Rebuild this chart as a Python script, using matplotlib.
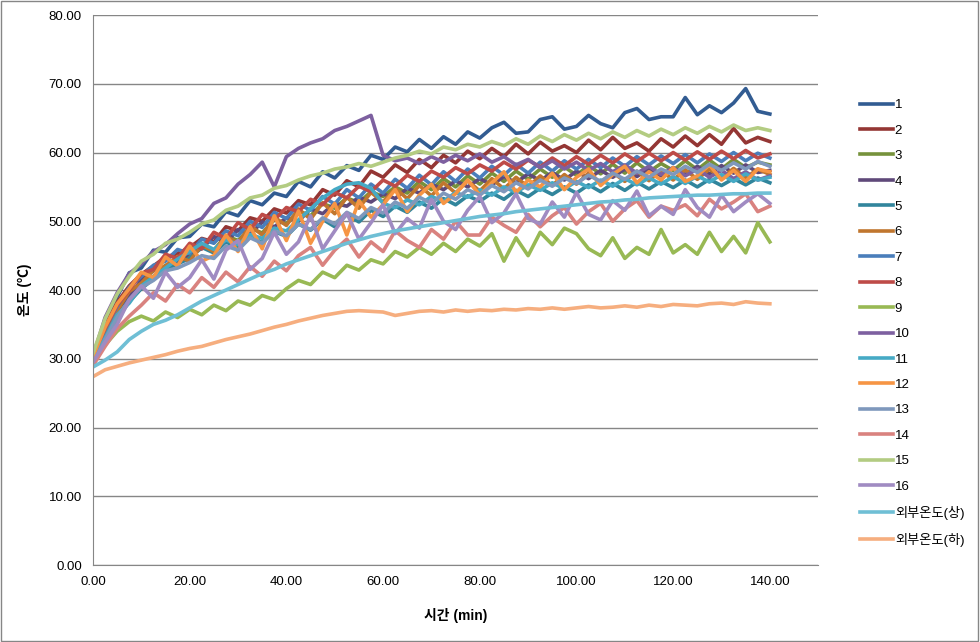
import matplotlib
matplotlib.use("Agg")
import matplotlib.pyplot as plt
from matplotlib.patches import Rectangle

plt.rcParams["font.family"] = ["Liberation Sans", "Noto Sans CJK KR"]

# time axis (min), one reading every 2.5 min
time = [i * 2.5 for i in range(57)]

s1 = [30.2, 35.5, 39.0, 42.5, 43.2, 45.8, 45.5, 47.6,
      47.8, 49.6, 49.2, 51.4, 50.8, 53.0, 52.4, 54.1,
      53.6, 55.8, 55.0, 57.2, 56.3, 58.1, 57.4, 59.6,
      59.0, 60.8, 60.1, 61.9, 60.6, 62.3, 61.2, 63.0,
      62.1, 63.6, 64.4, 62.8, 63.0, 64.8, 65.2, 63.4,
      63.8, 65.4, 64.2, 63.6, 65.8, 66.4, 64.8, 65.2,
      65.2, 68.0, 65.5, 66.8, 65.8, 67.2, 69.3, 66.0, 65.6]
s2 = [30.5, 34.8, 38.2, 40.6, 42.3, 43.5, 44.8, 45.3,
      46.2, 47.5, 47.0, 49.2, 48.6, 50.5, 50.0, 51.8,
      51.2, 53.0, 52.4, 54.6, 53.8, 55.9, 55.0, 57.3,
      56.4, 58.2, 57.1, 59.0, 57.8, 59.6, 58.5, 60.2,
      59.1, 60.6, 59.4, 61.2, 59.8, 61.5, 60.2, 61.0,
      60.0, 61.8, 60.4, 62.2, 60.6, 61.4, 60.2, 62.0,
      60.8, 62.4, 61.0, 62.6, 61.2, 63.5, 61.4, 62.2, 61.6]
s3 = [30.0, 33.8, 36.9, 39.4, 41.2, 42.0, 43.6, 44.1,
      45.0, 46.3, 45.8, 47.9, 47.2, 49.0, 48.3, 50.2,
      49.6, 51.5, 50.8, 52.6, 51.9, 53.4, 52.7, 54.3,
      53.6, 55.0, 54.1, 55.8, 54.6, 56.2, 55.0, 56.6,
      55.4, 57.0, 55.8, 57.3, 56.1, 57.6, 56.4, 57.9,
      56.7, 58.1, 56.9, 58.3, 57.0, 58.5, 57.2, 58.4,
      57.4, 58.8, 57.5, 58.9, 57.6, 59.0, 57.8, 58.6, 58.2]
s4 = [29.6, 33.5, 37.2, 39.0, 41.5, 42.8, 44.6, 43.9,
      45.4, 46.0, 47.8, 46.9, 48.8, 48.1, 49.9, 49.2,
      50.5, 50.0, 51.8, 51.1, 52.6, 52.2, 53.5, 52.8,
      54.0, 53.3, 54.8, 54.1, 55.4, 54.6, 55.9, 55.0,
      56.2, 55.3, 56.5, 55.6, 56.9, 55.9, 57.1, 56.0,
      57.3, 56.2, 57.4, 56.4, 57.6, 56.5, 57.7, 56.6,
      57.8, 56.8, 58.0, 56.9, 58.1, 57.0, 58.2, 57.1, 57.4]
s5 = [29.4, 32.6, 35.8, 38.3, 40.2, 41.6, 43.0, 43.8,
      44.6, 46.2, 45.4, 47.0, 46.1, 47.8, 46.9, 48.5,
      47.8, 49.6, 48.7, 50.3, 49.2, 51.0, 49.9, 51.6,
      50.7, 52.2, 51.3, 52.8, 51.9, 53.3, 52.4, 53.7,
      52.9, 54.1, 53.2, 54.5, 53.6, 54.8, 53.9, 55.0,
      54.1, 55.3, 54.3, 55.5, 54.5, 55.7, 54.7, 55.8,
      54.9, 56.0, 55.0, 56.1, 55.2, 56.2, 55.3, 56.3, 55.6]
s6 = [30.1, 34.0, 37.0, 39.8, 41.0, 42.9, 43.5, 44.9,
      44.2, 46.5, 45.6, 47.9, 46.8, 49.4, 48.0, 50.6,
      49.4, 51.8, 50.3, 52.7, 51.1, 53.5, 51.9, 54.2,
      52.8, 54.8, 53.3, 55.2, 53.7, 55.6, 54.1, 55.9,
      54.4, 56.2, 54.7, 56.4, 55.0, 56.6, 55.2, 56.8,
      55.4, 57.0, 55.6, 57.1, 55.8, 57.3, 55.9, 57.4,
      56.0, 57.5, 56.1, 57.6, 56.2, 57.7, 56.3, 57.6, 56.8]
s7 = [29.9, 34.2, 37.6, 40.4, 42.0, 43.6, 44.2, 45.9,
      45.3, 47.4, 46.8, 48.6, 47.9, 50.0, 49.1, 51.3,
      50.4, 52.5, 51.6, 53.6, 52.5, 54.6, 53.4, 55.4,
      54.1, 56.1, 54.8, 56.7, 55.3, 57.2, 55.8, 57.6,
      56.3, 58.0, 56.7, 58.3, 57.0, 58.6, 57.3, 58.8,
      57.6, 59.0, 57.8, 59.2, 58.0, 59.4, 58.2, 59.5,
      58.4, 59.7, 58.5, 59.8, 58.7, 60.0, 58.8, 59.9, 59.2]
s8 = [30.4, 34.4, 37.8, 40.0, 42.4, 43.0, 45.2, 44.6,
      46.8, 46.0, 48.4, 47.5, 49.8, 48.8, 51.0, 50.2,
      52.0, 51.4, 53.2, 52.4, 54.2, 53.4, 55.1, 54.3,
      56.0, 55.1, 56.7, 55.8, 57.3, 56.4, 57.8, 56.9,
      58.2, 57.3, 58.6, 57.6, 58.9, 57.9, 59.2, 58.1,
      59.4, 58.3, 59.6, 58.5, 59.8, 58.7, 59.9, 58.8,
      60.0, 58.9, 60.1, 59.0, 60.2, 59.1, 60.3, 59.2, 59.8]
s9 = [30.0, 32.0, 34.0, 35.4, 36.2, 35.5, 36.8, 36.0,
      37.2, 36.4, 37.8, 37.0, 38.4, 37.8, 39.2, 38.6,
      40.2, 41.4, 40.8, 42.6, 41.8, 43.6, 42.9, 44.4,
      43.8, 45.6, 44.8, 46.2, 45.2, 46.8, 45.6, 47.4,
      46.4, 48.2, 44.2, 47.6, 45.0, 48.4, 46.6, 49.0,
      48.2, 46.0, 45.0, 47.6, 44.6, 46.2, 45.2, 48.8,
      45.4, 46.6, 45.2, 48.4, 45.6, 47.8, 45.4, 49.8, 47.0]
s10 = [30.4, 36.0, 39.6, 42.4, 43.8, 45.6, 46.6, 48.2,
       49.6, 50.4, 52.6, 53.4, 55.4, 56.8, 58.6, 55.0,
       59.4, 60.6, 61.4, 62.0, 63.2, 63.8, 64.6, 65.4,
       59.6, 58.8, 59.2, 58.4, 59.4, 58.6, 59.6, 58.8,
       59.8, 58.6, 59.4, 58.2, 59.0, 57.8, 58.8, 57.6,
       58.6, 57.4, 58.4, 57.2, 58.2, 57.0, 58.0, 56.8,
       57.8, 56.6, 57.6, 56.4, 57.4, 56.2, 57.2, 56.0, 56.6]
s11 = [29.8, 33.0, 36.4, 38.1, 40.6, 41.9, 43.2, 44.5,
       45.6, 46.8, 45.9, 47.3, 46.6, 48.1, 47.5, 49.0,
       48.6, 50.2, 51.8, 53.4, 54.6, 55.4, 55.6, 54.8,
       52.6, 52.0, 53.1, 52.4, 53.6, 52.9, 54.2, 53.5,
       54.6, 53.8, 55.0, 54.2, 55.3, 54.5, 55.6, 54.7,
       55.8, 54.9, 56.0, 55.1, 56.2, 55.3, 56.3, 55.4,
       56.5, 55.5, 56.6, 55.7, 56.8, 55.8, 56.9, 56.0, 56.4]
s12 = [30.3, 34.6, 38.0, 40.2, 42.6, 41.8, 44.8, 43.5,
       46.4, 44.2, 45.0, 48.0, 45.6, 49.2, 46.0, 50.8,
       47.2, 51.5, 46.8, 50.0, 52.6, 48.0, 53.0, 50.6,
       52.4, 54.6, 51.4, 53.8, 55.4, 52.6, 54.0, 56.0,
       53.8, 55.6, 57.2, 54.2, 56.0, 55.0, 57.0, 54.6,
       56.4, 57.6, 55.2, 56.8, 58.0, 55.6, 57.2, 56.0,
       57.8, 55.8, 56.6, 58.2, 56.0, 57.4, 55.8, 57.6, 57.2]
s13 = [29.2, 32.8, 36.0, 38.6, 40.4, 41.4, 42.8, 43.2,
       44.0, 45.0, 44.6, 46.4, 45.8, 47.6, 46.8, 48.6,
       47.9, 49.6, 48.8, 50.5, 49.6, 51.3, 50.4, 52.0,
       51.2, 52.8, 51.9, 53.5, 52.6, 54.1, 53.2, 54.6,
       53.8, 55.2, 54.3, 55.6, 54.7, 56.0, 55.1, 56.3,
       55.5, 56.7, 55.8, 57.0, 56.1, 57.3, 56.4, 57.6,
       56.8, 58.0, 57.1, 58.3, 57.4, 58.5, 57.6, 58.7, 58.0]
s14 = [29.0, 31.8, 34.4, 36.2, 37.8, 39.6, 38.4, 40.8,
       39.6, 41.8, 40.4, 42.6, 41.2, 43.4, 42.0, 44.2,
       42.8, 45.0, 46.2, 43.6, 45.8, 47.4, 44.8, 47.0,
       45.6, 48.6, 47.2, 46.2, 48.8, 47.4, 50.0, 48.0,
       48.0, 50.6, 49.4, 48.4, 51.0, 49.2, 50.8, 52.0,
       49.6, 51.4, 52.6, 50.0, 51.8, 53.0, 50.6, 52.2,
       51.6, 52.4, 50.8, 53.2, 51.8, 52.8, 54.0, 51.4, 52.2]
s15 = [30.8, 35.8, 39.4, 42.0, 44.2, 45.2, 46.8, 47.4,
       48.4, 49.6, 50.2, 51.6, 52.2, 53.4, 53.8, 54.8,
       55.2, 56.0, 56.6, 57.0, 57.6, 57.9, 58.4, 58.0,
       58.6, 59.2, 59.6, 60.2, 59.8, 60.8, 60.4, 61.2,
       60.8, 61.6, 61.0, 62.0, 61.2, 62.4, 61.6, 62.6,
       61.8, 62.8, 62.0, 63.0, 62.2, 63.2, 62.4, 63.4,
       62.6, 63.6, 62.8, 63.8, 63.0, 64.0, 63.2, 63.6, 63.2]
s16 = [29.5, 32.4, 35.0, 38.6, 40.6, 38.8, 42.6, 40.4,
       41.8, 44.4, 41.6, 45.8, 47.2, 43.0, 44.6, 48.4,
       45.2, 47.0, 50.8, 46.0, 48.6, 51.2, 47.4, 49.8,
       52.4, 48.2, 50.4, 49.0, 53.2, 50.0, 48.8, 51.6,
       53.6, 49.8, 51.2, 54.0, 50.4, 49.6, 52.8, 50.6,
       54.2, 51.0, 50.2, 53.0, 51.6, 54.4, 50.8, 52.2,
       51.0, 54.6, 52.0, 50.6, 53.8, 51.4, 52.8, 54.0, 52.6]
outer_top = [28.8, 29.8, 31.0, 32.8, 34.0, 35.0, 35.6, 36.4,
             37.4, 38.4, 39.2, 40.0, 40.8, 41.6, 42.4, 43.0,
             43.8, 44.4, 45.0, 45.6, 46.2, 46.8, 47.3, 47.8,
             48.2, 48.6, 48.9, 49.2, 49.5, 49.8, 50.1, 50.4,
             50.7, 50.9, 51.1, 51.4, 51.6, 51.8, 52.0, 52.2,
             52.4, 52.6, 52.8, 52.9, 53.1, 53.2, 53.4, 53.5,
             53.6, 53.7, 53.8, 53.8, 53.9, 54.0, 54.0, 54.1, 54.1]
outer_bottom = [27.4, 28.4, 28.9, 29.4, 29.8, 30.2, 30.6, 31.1,
                31.5, 31.8, 32.3, 32.8, 33.2, 33.6, 34.1, 34.6,
                35.0, 35.5, 35.9, 36.3, 36.6, 36.9, 37.0, 36.9,
                36.8, 36.3, 36.6, 36.9, 37.0, 36.8, 37.1, 36.9,
                37.1, 37.0, 37.2, 37.1, 37.3, 37.2, 37.4, 37.2,
                37.4, 37.6, 37.4, 37.5, 37.7, 37.5, 37.8, 37.6,
                37.9, 37.8, 37.7, 38.0, 38.1, 37.9, 38.3, 38.1, 38.0]

labels = [str(i) for i in range(1, 17)] + ["외부온도(상)", "외부온도(하)"]
series = [s1, s2, s3, s4, s5, s6, s7, s8, s9, s10, s11, s12, s13, s14, s15, s16,
          outer_top, outer_bottom]
colors = ["#325C92", "#943634", "#76923C", "#5F497A", "#31859C", "#C0762E",
          "#4A7EBB", "#BE4B48", "#98B954", "#7D60A0", "#46AAC5", "#F69544",
          "#7F98BC", "#D9827F", "#B3CC82", "#A08BC2", "#6FBFD5", "#F6AE7F"]

fig = plt.figure(figsize=(9.8, 6.42), dpi=100)
ax = fig.add_axes([0.0949, 0.1199, 0.74, 0.8567])

for y, c, lab in zip(series, colors, labels):
    ax.plot(time, y, color=c, lw=2.6, label=lab)

ax.set_xlim(0, 150)
ax.set_ylim(0, 80)
ax.set_xticks(range(0, 141, 20))
ax.set_xticklabels([f"{v:.2f}" for v in range(0, 141, 20)])
ax.set_yticks(range(0, 81, 10))
ax.set_yticklabels([f"{v:.2f}" for v in range(0, 81, 10)])
ax.tick_params(length=0, labelsize=9.5, pad=8)
ax.grid(axis="y", color="#868686", lw=1)
ax.set_axisbelow(True)
for side in ["top", "right"]:
    ax.spines[side].set_visible(False)
for side in ["left", "bottom"]:
    ax.spines[side].set_color("#868686")

ax.set_xlabel("시간 (min)", fontsize=10, fontweight="bold", labelpad=14)
ax.set_ylabel("온도 (℃)", fontsize=10, fontweight="bold", labelpad=12)

fig.legend(loc="upper left", bbox_to_anchor=(0.872, 0.854), frameon=False,
           fontsize=9.5, handlelength=2.5, handletextpad=0.15, labelspacing=1.0,
           borderaxespad=0)

fig.add_artist(Rectangle((0.001, 0.002), 0.997, 0.996, transform=fig.transFigure,
                         fill=False, edgecolor="#868686", lw=1))

fig.savefig("out.png", dpi=100)
